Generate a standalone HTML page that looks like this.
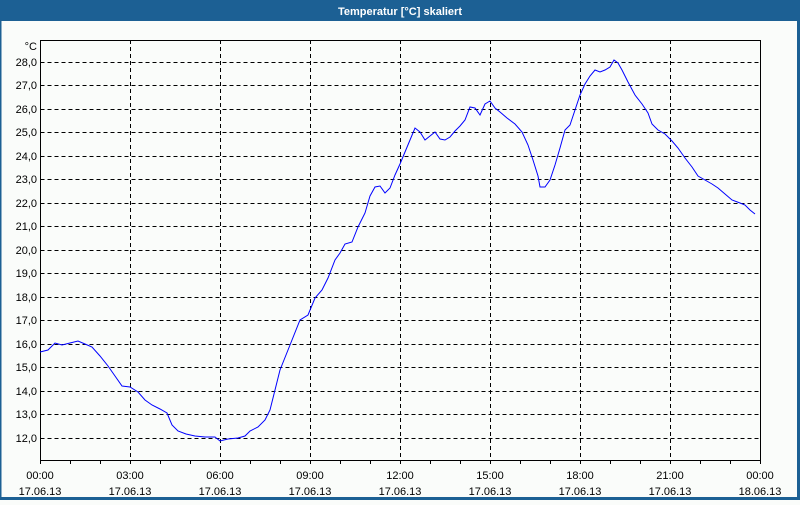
<!DOCTYPE html>
<html><head><meta charset="utf-8"><style>
html,body{margin:0;padding:0;}
body{width:800px;height:500px;overflow:hidden;background:#fafcfa;font-family:"Liberation Sans",sans-serif;}
</style></head><body>
<svg width="800" height="500" xmlns="http://www.w3.org/2000/svg" font-family="Liberation Sans, sans-serif" font-size="11">
<rect x="0" y="0" width="800" height="500" fill="#fafcfa"/>
<rect x="0" y="0" width="800" height="21" fill="#1c6094"/>
<rect x="0" y="0" width="1.5" height="500" fill="#1c6094"/>
<rect x="797" y="0" width="3" height="500" fill="#1c6094"/>
<rect x="0" y="497" width="800" height="3" fill="#1c6094"/>
<text x="400" y="15" fill="#fff" font-weight="bold" text-anchor="middle">Temperatur [°C] skaliert</text>
<g stroke="#000" stroke-dasharray="4,3" stroke-width="1">
<path d="M40.5 62.5H760M40.5 85.5H760M40.5 109.5H760M40.5 132.5H760M40.5 156.5H760M40.5 179.5H760M40.5 203.5H760M40.5 226.5H760M40.5 250.5H760M40.5 273.5H760M40.5 297.5H760M40.5 320.5H760M40.5 344.5H760M40.5 367.5H760M40.5 391.5H760M40.5 414.5H760M40.5 438.5H760"/>
<path d="M130.5 40V460M220.5 40V460M310.5 40V460M400.5 40V460M490.5 40V460M580.5 40V460M670.5 40V460"/>
</g>
<rect x="40.5" y="40.5" width="720" height="420" fill="none" stroke="#000"/>
<g stroke="#000">
<path d="M70.5 460v4M100.5 460v4M130.5 460v4M160.5 460v4M190.5 460v4M220.5 460v4M250.5 460v4M280.5 460v4M310.5 460v4M340.5 460v4M370.5 460v4M400.5 460v4M430.5 460v4M460.5 460v4M490.5 460v4M520.5 460v4M550.5 460v4M580.5 460v4M610.5 460v4M640.5 460v4M670.5 460v4M700.5 460v4M730.5 460v4M40.5 460v4M760.5 460v4"/>
</g>
<g text-anchor="end" fill="#000">
<text x="37" y="50">°C</text>
<text x="37" y="66">28,0</text><text x="37" y="89">27,0</text><text x="37" y="113">26,0</text><text x="37" y="136">25,0</text><text x="37" y="160">24,0</text><text x="37" y="183">23,0</text><text x="37" y="207">22,0</text><text x="37" y="230">21,0</text><text x="37" y="254">20,0</text><text x="37" y="277">19,0</text><text x="37" y="301">18,0</text><text x="37" y="324">17,0</text><text x="37" y="348">16,0</text><text x="37" y="371">15,0</text><text x="37" y="395">14,0</text><text x="37" y="418">13,0</text><text x="37" y="442">12,0</text>
</g>
<g text-anchor="middle" fill="#000">
<text x="40" y="479">00:00</text><text x="40" y="495">17.06.13</text>
<text x="130" y="479">03:00</text><text x="130" y="495">17.06.13</text>
<text x="220" y="479">06:00</text><text x="220" y="495">17.06.13</text>
<text x="310" y="479">09:00</text><text x="310" y="495">17.06.13</text>
<text x="400" y="479">12:00</text><text x="400" y="495">17.06.13</text>
<text x="490" y="479">15:00</text><text x="490" y="495">17.06.13</text>
<text x="580" y="479">18:00</text><text x="580" y="495">17.06.13</text>
<text x="670" y="479">21:00</text><text x="670" y="495">17.06.13</text>
<text x="760" y="479">00:00</text><text x="760" y="495">18.06.13</text>
</g>
<polyline fill="none" stroke="#0000ff" stroke-width="1" points="40,352 48,350 55,343 62,345 70,343 78,341 85,344 92,347 100,356 108,366 115,376 122,386 130,387 138,392 145,400 152,405 160,409 167,413 172,425 178,431 186,434 195,436 205,437 215,437 220,441 228,439 238,438 245,436 250,431 258,427 265,420 270,410 275,390 280,370 290,345 300,320 308,315 315,298 322,290 328,278 335,260 340,253 345,244 352,242 358,227 365,213 370,196 375,187 380,186 385,193 390,188 395,175 400,164 405,152 410,140 415,128 420,132 425,140 430,136 435,132 440,139 445,140 450,137 455,131 460,126 465,120 470,107 475,108 480,115 485,104 490,101 495,108 500,112 507,118 515,124 522,132 528,145 533,160 538,176 540,187 545,187 550,180 555,165 560,148 565,130 570,125 575,110 580,95 585,84 590,76 595,70 600,72 605,70 610,67 614,60 618,63 622,70 628,82 635,95 642,104 648,113 652,124 658,130 665,134 672,141 678,148 685,158 692,167 698,176 705,180 712,184 718,188 725,194 732,200 740,203 745,205 750,210 755,214"/>
</svg>
</body></html>
